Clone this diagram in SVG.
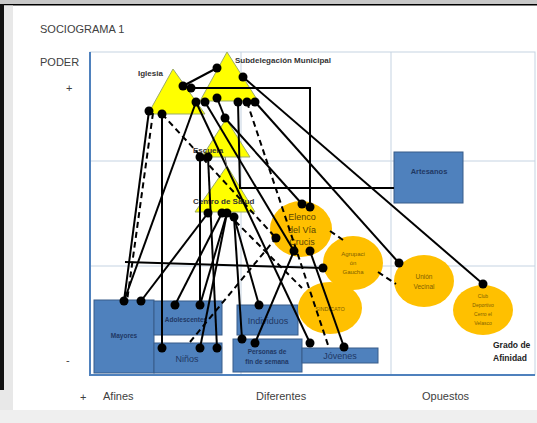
<svg xmlns="http://www.w3.org/2000/svg" width="537" height="423" viewBox="0 0 537 423">
<style>
text{font-family:"Liberation Sans",Arial,sans-serif}
.ax{font-size:11px;fill:#404040}
.grid{stroke:#c5d3e2;stroke-width:1;fill:none}
.axis{stroke:#4f81bd;stroke-width:2;fill:none}
.tri{fill:#ffff00;stroke:#9bab6a;stroke-width:1}
.tl{font-size:8px;font-weight:bold;fill:#333333}
.box{fill:#4f81bd;stroke:#385d8a;stroke-width:1}
.bl{font-weight:bold;fill:#1f3864;text-anchor:middle}
.bn{fill:#1f3864;text-anchor:middle;font-size:9px}
.org{fill:#ffc000}
.ol{fill:#7f6000;text-anchor:middle}
.c{stroke:#000;stroke-width:2;fill:none}
.d{stroke:#000;stroke-width:2;fill:none;stroke-dasharray:6 4}
.dot{fill:#000}
</style>
<rect x="0" y="0" width="537" height="423" fill="#ffffff"/>
<rect x="0" y="0" width="537" height="4" fill="#c8c8c8"/>
<rect x="0" y="4" width="537" height="1.5" fill="#000"/>
<rect x="0" y="4" width="4" height="386" fill="#111"/>
<rect x="4" y="5.5" width="9" height="405" fill="#e8e8e8"/>
<rect x="0" y="390" width="4" height="33" fill="#e8e8e8"/>
<rect x="0" y="410" width="537" height="13" fill="#efefef"/>

<g id="chart">
<rect class="grid" x="90" y="52" width="445" height="323"/>
<line class="grid" x1="90" y1="161" x2="535" y2="161"/>
<line class="grid" x1="90" y1="266" x2="535" y2="266"/>
<line class="grid" x1="241" y1="52" x2="241" y2="375"/>
<line class="grid" x1="391" y1="52" x2="391" y2="375"/>
<polyline class="axis" points="90,52 90,375 535,375"/>
<text class="ax" x="40" y="33">SOCIOGRAMA 1</text>
<text class="ax" x="40" y="66">PODER</text>
<text class="ax" x="66" y="92" font-size="13">+</text>
<text class="ax" x="66" y="364" font-size="13">-</text>
<text class="ax" x="80" y="401" font-size="13">+</text>
<text class="ax" x="103" y="400">Afines</text>
<text class="ax" x="256" y="400">Diferentes</text>
<text class="ax" x="422" y="400">Opuestos</text>
<text x="493" y="348" font-size="8.5" font-weight="bold" fill="#222">Grado de</text>
<text x="493" y="361" font-size="8.5" font-weight="bold" fill="#222">Afinidad</text>
</g>

<g id="mayores"><rect class="box" x="94" y="300" width="60" height="73"/><text class="bl" x="124" y="338" font-size="6.5">Mayores</text></g>
<g id="adolescentes"><rect class="box" x="154" y="301" width="68" height="34"/><text class="bl" x="186" y="322" font-size="6.5">Adolescentes</text></g>
<g id="ninos"><rect class="box" x="154" y="343" width="68" height="30"/><text class="bn" x="187" y="362">Niños</text></g>
<g id="individuos"><rect class="box" x="237" y="305" width="61" height="30"/><text class="bn" x="268" y="324">Individuos</text></g>
<g id="personas"><rect class="box" x="233" y="339" width="69" height="33"/><text class="bl" x="267" y="354" font-size="6.5">Personas de</text><text class="bl" x="267" y="364" font-size="6.5">fin de semana</text></g>
<g id="jovenes"><rect class="box" x="302" y="348" width="76" height="15"/><text class="bn" x="340" y="359">Jóvenes</text></g>
<g id="artesanos"><rect class="box" x="394" y="152" width="69" height="51"/><text class="bl" x="429" y="174" font-size="7.5">Artesanos</text></g>

<g id="subdelegacion"><polygon class="tri" points="227,52 200,101 258,101"/><text class="tl" x="235" y="63">Subdelegación Municipal</text></g>
<g id="iglesia"><polygon class="tri" points="173,69 148,114 205,114"/><text class="tl" x="138" y="76">Iglesia</text></g>
<g id="escuela"><polygon class="tri" points="226,119 202,157 250,157"/><text class="tl" x="193" y="153">Escuela</text></g>
<g id="centro"><polygon class="tri" points="227,166 195,212 255,212"/><text class="tl" x="193" y="204">Centro de Salud</text></g>

<g id="elenco"><ellipse class="org" cx="301" cy="229" rx="31" ry="28"/><text class="ol" x="302" y="220" font-size="9" fill="#5a4500" style="fill:#5a4500">Elenco</text><text class="ol" x="302" y="233" font-size="9" style="fill:#5a4500">del Vía</text><text class="ol" x="302" y="245" font-size="9" style="fill:#5a4500">Crucis</text></g>
<g id="agrupacion"><ellipse class="org" cx="353" cy="263" rx="30" ry="27"/><text class="ol" x="353" y="256" font-size="6">Agrupaci</text><text class="ol" x="353" y="265" font-size="6">ón</text><text class="ol" x="353" y="274" font-size="6">Gaucha</text></g>
<g id="sindicato"><ellipse class="org" cx="330" cy="308" rx="32" ry="26"/><text class="ol" x="330" y="311" font-size="5.5">SINDICATO</text></g>
<g id="union"><ellipse class="org" cx="424" cy="281" rx="30" ry="26"/><text class="ol" x="424" y="279" font-size="6.5">Unión</text><text class="ol" x="424" y="289" font-size="6.5">Vecinal</text></g>
<g id="club"><ellipse class="org" cx="483" cy="310" rx="30" ry="25"/><text class="ol" x="483" y="298" font-size="5">Club</text><text class="ol" x="483" y="307" font-size="5">Deportivo</text><text class="ol" x="483" y="316" font-size="5">Cerro el</text><text class="ol" x="483" y="325" font-size="5">Velasco</text></g>

<g id="connectors">
<path class="c" d="M183 86 L217 68"/>
<path class="c" d="M191 88 H310 V207"/>
<path class="c" d="M238 102 L240 188 L394 188"/>
<path class="c" d="M243 77 L483 284"/>
<path class="c" d="M255 102 L399 263"/>
<path class="c" d="M217 98 L225 118"/>
<path class="c" d="M205 102 L294 251"/>
<path class="c" d="M196 102 L310 343"/>
<path class="c" d="M196 102 L124 301"/>
<path class="c" d="M162 114 V348"/>
<path class="c" d="M200 157 V305"/>
<path class="c" d="M208 157 L217 348"/>
<path class="c" d="M208 213 L141 301"/>
<path class="c" d="M222 213 L175 305"/>
<path class="c" d="M227 213 L200 305"/>
<path class="c" d="M227 213 L200 348"/>
<path class="c" d="M234 217 L259 305"/>
<path class="c" d="M234 217 L242 339"/>
<path class="c" d="M125 262 L323 268"/>
<path class="c" d="M294 251 L255 343"/>
<path class="c" d="M310 251 L344 347"/>
<path class="c" d="M149 111 L124 301"/>
<path class="c" d="M225 118 L302 204"/>
<path d="M225 157 L227 167" stroke="#666" stroke-width="1"/>
<path class="d" d="M162 114 L276 238"/>
<path class="d" d="M247 102 L328 345"/>
<path class="d" d="M153 113 L127 301"/>
<path class="d" d="M330 231 L343 240"/>
<path class="d" d="M378 272 L396 284"/>
<path class="d" d="M190 342 L276 238"/>
<path class="d" d="M228 214 L302 288"/>
<g class="dot">
<circle cx="217" cy="68" r="4.5"/><circle cx="243" cy="77" r="4.5"/><circle cx="217" cy="98" r="4.5"/>
<circle cx="238" cy="102" r="4.5"/><circle cx="247" cy="102" r="4.5"/><circle cx="255" cy="102" r="4.5"/>
<circle cx="183" cy="86" r="4.5"/><circle cx="191" cy="88" r="4.5"/><circle cx="196" cy="102" r="4.5"/>
<circle cx="205" cy="102" r="4.5"/><circle cx="149" cy="111" r="4.5"/><circle cx="162" cy="114" r="4.5"/>
<circle cx="225" cy="118" r="4.5"/><circle cx="200" cy="157" r="4.5"/><circle cx="208" cy="157" r="4.5"/>
<circle cx="208" cy="213" r="4.5"/><circle cx="222" cy="213" r="4.5"/><circle cx="227" cy="213" r="4.5"/><circle cx="234" cy="217" r="4.5"/>
<circle cx="302" cy="204" r="4.5"/><circle cx="310" cy="207" r="4.5"/><circle cx="276" cy="238" r="4.5"/>
<circle cx="294" cy="251" r="4.5"/><circle cx="310" cy="251" r="4.5"/>
<circle cx="323" cy="268" r="4.5"/><circle cx="399" cy="263" r="4.5"/><circle cx="483" cy="284" r="4.5"/>
<circle cx="124" cy="301" r="4.5"/><circle cx="141" cy="301" r="4.5"/>
<circle cx="175" cy="305" r="4.5"/><circle cx="200" cy="305" r="4.5"/><circle cx="259" cy="305" r="4.5"/>
<circle cx="162" cy="348" r="4.5"/><circle cx="200" cy="348" r="4.5"/><circle cx="217" cy="348" r="4.5"/>
<circle cx="242" cy="339" r="4.5"/><circle cx="255" cy="343" r="4.5"/>
<circle cx="310" cy="343" r="4.5"/><circle cx="344" cy="347" r="4.5"/>
</g>
</g>
</svg>
